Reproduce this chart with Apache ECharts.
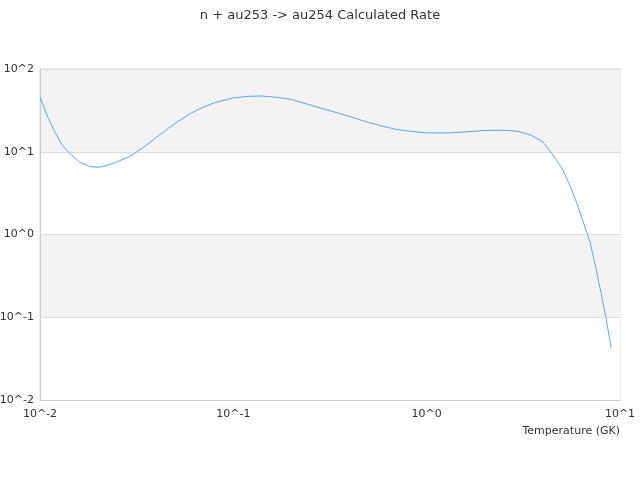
<!DOCTYPE html>
<html>
<head>
<meta charset="utf-8" />
<style>
  html, body { margin: 0; padding: 0; background: #fff; }
  #main { width: 640px; height: 480px; }
</style>
</head>
<body>
<div id="main"></div>
<script src="https://cdn.jsdelivr.net/npm/echarts@6/dist/echarts.min.js"></script>
<script>
// temperature grid (GK) and rate values
const temperatures = [0.01, 0.011, 0.012, 0.013, 0.014, 0.016, 0.018, 0.02, 0.022, 0.025, 0.03, 0.035,
  0.04, 0.05, 0.06, 0.07, 0.08, 0.1, 0.12, 0.14, 0.17, 0.2, 0.25, 0.3, 0.4, 0.5, 0.6,
  0.7, 0.8, 1, 1.3, 1.6, 2, 2.5, 3, 3.5, 4, 4.5, 5, 5.5, 6, 6.5, 7, 7.5, 8, 8.5, 9];
const rates = [45.9, 25.9, 17.0, 12.1, 9.93, 7.52, 6.63, 6.49, 6.77, 7.52, 9.14, 11.7,
  14.9, 22.1, 29.0, 34.7, 39.1, 44.7, 46.8, 47.2, 45.3, 42.8, 36.7, 32.4, 26.7, 22.6, 20.2,
  18.6, 17.8, 16.9, 16.9, 17.4, 18.1, 18.2, 17.6, 15.7, 13.1, 9.14, 6.36, 3.96, 2.34, 1.34,
  0.81, 0.394, 0.191, 0.0927, 0.043];
const titleText = 'n + au253 -> au254 Calculated Rate';
const xName = 'Temperature (GK)';

const pow10Label = v => '10^' + Math.round(Math.log10(v));

const chart = echarts.init(document.getElementById('main'));
chart.setOption({
  animation: false,
  title: {
    text: titleText,
    left: 'center',
    top: 4,
    textStyle: { fontFamily: 'DejaVu Sans', fontSize: 13, fontWeight: 'normal', color: '#333' }
  },
  grid: {
    left: 40, right: 20, top: 69, bottom: 80,
    containLabel: false,
    outerBoundsMode: 'none',
    show: true, borderColor: '#ddd', borderWidth: 1, backgroundColor: 'transparent'
  },
  xAxis: {
    type: 'log',
    min: 0.01,
    max: 10,
    logBase: 10,
    name: xName,
    nameLocation: 'end',
    nameGap: 0,
    nameTextStyle: {
      fontFamily: 'DejaVu Sans', fontSize: 11, color: '#333',
      align: 'right', verticalAlign: 'top', padding: [26, 0, 0, 0]
    },
    axisLine: { lineStyle: { color: '#ccc' } },
    axisTick: { show: false },
    splitLine: { show: false },
    axisLabel: {
      fontFamily: 'DejaVu Sans', fontSize: 11, color: '#333', margin: 9,
      formatter: pow10Label
    }
  },
  yAxis: {
    type: 'log',
    min: 0.01,
    max: 100,
    logBase: 10,
    axisLine: { show: true, lineStyle: { color: '#ccc' } },
    axisTick: { show: false },
    splitLine: { lineStyle: { color: '#ddd' } },
    splitArea: { show: true, areaStyle: { color: ['#ffffff', '#f3f3f3'] } },
    axisLabel: {
      fontFamily: 'DejaVu Sans', fontSize: 11, color: '#333', margin: 6,
      formatter: pow10Label
    }
  },
  series: [{
    type: 'line',
    data: temperatures.map((t, i) => [t, rates[i]]),
    showSymbol: false,
    smooth: false,
    lineStyle: { color: '#5aa8f5', width: 1 },
    itemStyle: { color: '#5aa8f5' }
  }]
});
</script>
</body>
</html>
